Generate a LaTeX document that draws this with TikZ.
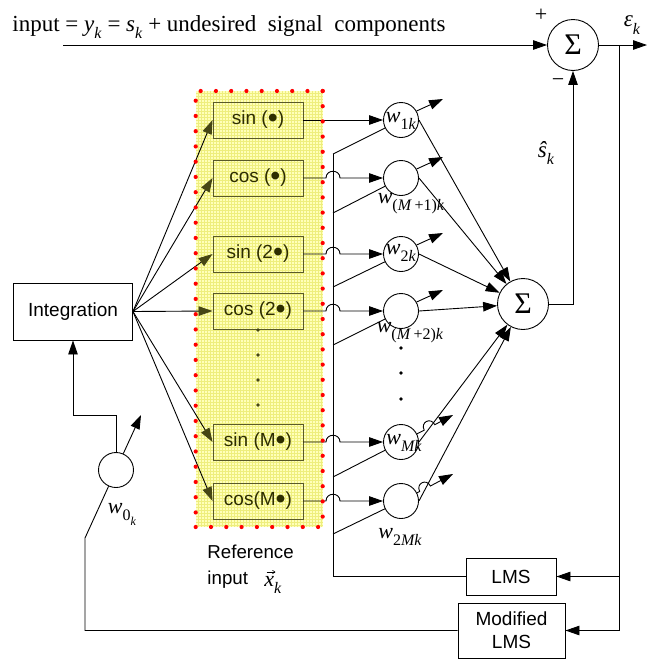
\documentclass[tikz,border=0pt]{standalone}
\usepackage{fontspec}
\setmainfont{Liberation Serif}
\newfontfamily\arialf{Liberation Sans}
\usetikzlibrary{arrows.meta}
\definecolor{yelfill}{RGB}{255,255,185}
\definecolor{yelgrid}{RGB}{238,238,125}
\definecolor{olivebd}{RGB}{90,90,40}
\definecolor{olivetx}{RGB}{45,45,0}
\definecolor{olivearr}{RGB}{70,70,20}
\newcommand\mysub[1]{\raisebox{-0.33em}{\fontsize{16}{16}\selectfont #1}}
\newcommand\wl[1]{\textit{w}\mysub{#1}}
\newcommand\bul{\raisebox{-0.12em}{\scalebox{1.5}{•}}}
\begin{document}
\begin{tikzpicture}[x=1pt,y=-1pt,line width=0.9pt,
  >={Triangle[length=14pt,width=9.5pt]},
  wt/.style={circle,draw,minimum size=35pt,inner sep=0pt},
  sumc/.style={circle,draw,minimum size=51pt,inner sep=0pt,font=\fontsize{30}{30}\selectfont},
  fbox/.style={draw=olivebd,minimum width=90pt,minimum height=36pt,inner sep=0pt,text=olivetx,font=\arialf\fontsize{19}{21}\selectfont},
  pbox/.style={draw,inner sep=0pt,align=center,font=\arialf\fontsize{19}{23}\selectfont},
  wlab/.style={inner sep=0pt,font=\fontsize{22}{24}\selectfont},
  lab/.style={inner sep=0pt,font=\fontsize{23}{25}\selectfont},
  sans/.style={inner sep=0pt,font=\arialf\fontsize{18.7}{23}\selectfont},
  oarrow/.style={-{Triangle[length=14pt,width=9.5pt,color=olivearr]}},
  dotc/.style={fill=red}]
\useasboundingbox (0,0) rectangle (647,659);

% yellow reference region
\fill[yelfill] (196,91) rectangle (323,527);
\draw[yelgrid,line width=0.3pt,step=3pt] (196,91) grid (323,527);

% nodes
\node[pbox,minimum width=119pt,minimum height=57pt] (integ) at (73,311.5) {Integration};
\node[fbox] (b1) at (258,120) {sin (\bul)};
\node[fbox] (b2) at (258,178) {cos (\bul)};
\node[fbox] (b3) at (258,254) {sin (2\bul)};
\node[fbox] (b4) at (258,311) {cos (2\bul)};
\node[fbox] (b5) at (258,442) {sin (M\bul)};
\node[fbox] (b6) at (258,501) {cos(M\bul)};

\node[wt] (w1) at (401,120) {};
\node[wt] (wA) at (401,178) {};
\node[wt] (w2) at (401,254) {};
\node[wt] (wB) at (401,311) {};
\node[wt] (wM) at (401,442) {};
\node[wt] (wC) at (401,501) {};
\node[wt] (w0) at (116,470) {};

\node[sumc] (S) at (523,304) {Σ};
\node[sumc] (T) at (573,45) {Σ};

\node[pbox,minimum width=90pt,minimum height=37pt] (lms) at (511,576.5) {LMS};
\node[pbox,minimum width=107pt,minimum height=55pt] (mlms) at (511.5,630.5) {Modified\\LMS};

% coordinates
\coordinate (inL) at (63,45);
\coordinate (outR) at (647,45);
\coordinate (fb) at (619,45);
\coordinate (v1) at (333,154);
\coordinate (vA) at (333,213);
\coordinate (v2) at (333,287);
\coordinate (vB) at (333,345);
\coordinate (vM) at (333,477);
\coordinate (vC) at (333,534);
\coordinate (t1) at (443,99);
\coordinate (tA) at (443,157);
\coordinate (t2) at (443,233);
\coordinate (tB) at (443,290);
\coordinate (tM) at (453,415);
\coordinate (tC) at (453,474);
\coordinate (t0) at (141,415);
\coordinate (c0) at (116,415);
\coordinate (m0) at (85,538);

% fan from integration
\foreach \b in {b1,b2,b3,b4,b5,b6}
  \draw[oarrow] (integ.east) -- (\b.west);

% box outputs to weights
\draw[->] (b1.east) -- (w1.west);
\draw[->] (b2.east) -- (326,178) .. controls (326,169) and (340,169) .. (340,178) -- (wA.west);
\draw[->] (b3.east) -- (326,254) .. controls (326,245) and (340,245) .. (340,254) -- (w2.west);
\draw[->] (b4.east) -- (326,311) .. controls (326,302) and (340,302) .. (340,311) -- (wB.west);
\draw[->] (b5.east) -- (326,442) .. controls (326,433) and (340,433) .. (340,442) -- (wM.west);
\draw[->] (b6.east) -- (326,501) .. controls (326,492) and (340,492) .. (340,501) -- (wC.west);

% LMS feedback bus
\draw (lms.west) -| (v1);
\foreach \v/\w in {v1/w1,vA/wA,v2/w2,vB/wB,vM/wM,vC/wC}
  \draw (\v) -- (\w);

% weight adjustment arrows
\draw[->] (w1.30) -- (t1);
\draw[->] (wA.30) -- (tA);
\draw[->] (w2.30) -- (t2);
\draw[->] (wB.30) -- (tB);
\draw[->] (wM.27) -- (424.2,430.2) .. controls +(-4.1,-8) and +(-4.1,-8) .. (434.8,424.7) -- (tM);
\draw[->] (wC.27) -- (419.7,491.5) .. controls +(-4.1,-8) and +(-4.1,-8) .. (430.4,486) -- (tC);

% weights to sum
\foreach \w in {w1,wA,w2,wB,wM,wC}
  \draw[->] (\w.east) -- (S);

% sum to top sum
\draw[->] (S.east) -| (T.south);
\draw[->] (inL) -- (T.west);
\draw[->] (T.east) -- (outR);
\draw[->] (fb) |- (mlms.east);
\draw[->] (lms.east -| fb) -- (lms.east);

% w0 loop
\draw (mlms.west) -| (m0) -- (w0);
\draw[->] (w0.north) -- (c0) -| (integ.south);
\draw[->] (w0.66) -- (t0);

% red dotted border
\foreach \i in {0,...,8} \fill[dotc] (200.7+15.25*\i,91) circle (2.1pt);
\foreach \j in {0,...,28} \fill[dotc] (322.7,91+15.2*\j) circle (2.1pt);
\foreach \j in {0,...,27} \fill[dotc] (195.7,100.7+15.25*\j) circle (2.1pt);
\foreach \i in {0,...,8} \fill[dotc] (195.7+15.3*\i,527) circle (2.1pt);

% vertical dots
\foreach \y in {330,355,380,405} \fill[olivearr] (258,\y) circle (1.8pt);
\foreach \y in {348,373,399} \fill (401,\y) circle (1.8pt);

% labels
\node[lab,anchor=base west] (title) at (12,31) {input = \textit{y}\mysub{\textit{k}} = \textit{s}\mysub{\textit{k}} + undesired \ signal \ components};
\node[inner sep=0pt,font=\fontsize{22}{22}\selectfont] (plus) at (541,15) {+};
\node[inner sep=0pt,font=\fontsize{22}{22}\selectfont] (minus) at (558,83) {−};
\node[lab] (eps) at (632,25) {\textit{ε}\mysub{\textit{k}}};
\node[lab] (shat) at (546,153) {\textit{ŝ}\mysub{\textit{k}}};
\node[wlab] (lw1) at (401,121) {\wl{1\textit{k}}};
\node[wlab] (lwA) at (411,204) {\wl{(\textit{M}\,+1)\textit{k}}};
\node[wlab] (lw2) at (401,253) {\wl{2\textit{k}}};
\node[wlab] (lwB) at (410,333) {\wl{(\textit{M}\,+2)\textit{k}}};
\node[wlab] (lwM) at (404,443) {\wl{\textit{Mk}}};
\node[wlab] (lwC) at (400,537) {\wl{2\textit{Mk}}};
\node[wlab] (lw0) at (122,514) {\textit{w}\mysub{0\raisebox{-0.3em}{\fontsize{12}{12}\selectfont\textit{k}}}};
\node[sans,anchor=base west] (ref1) at (207,558) {Reference};
\node[sans,anchor=base west] (ref2) at (207,584) {input};
\node[wlab,anchor=base west] (xk) at (264,586) {\textit{x}\mysub{\textit{k}}};
\draw[line width=0.6pt,-{Straight Barb[length=2.5pt,width=3.5pt]}] ([xshift=2.5pt,yshift=14pt]xk.base west) -- ++(9,0);
\end{tikzpicture}
\end{document}
